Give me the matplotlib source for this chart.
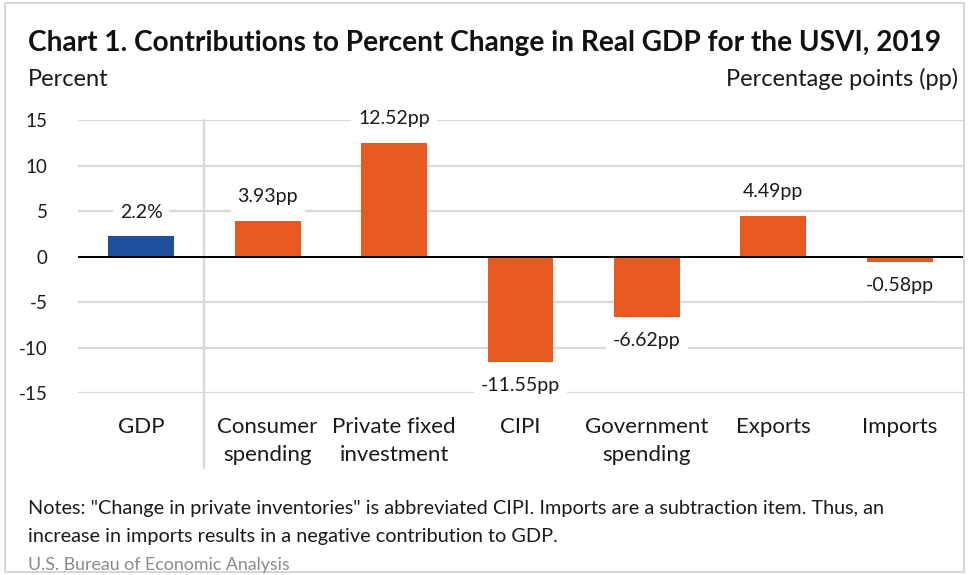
import matplotlib.pyplot as plt
from matplotlib.patches import Rectangle

categories = ["GDP", "Consumer\nspending", "Private fixed\ninvestment", "CIPI",
              "Government\nspending", "Exports", "Imports"]
values = [2.2, 3.93, 12.52, -11.55, -6.62, 4.49, -0.58]
value_labels = ["2.2%", "3.93pp", "12.52pp", "-11.55pp", "-6.62pp", "4.49pp", "-0.58pp"]
yticks = [-15, -10, -5, 0, 5, 10, 15]

blue = "#1f4e9c"
orange = "#e8581f"
grid_col = "#d9d9d9"
font = "Lato"

plt.rcParams['font.family'] = [font, 'DejaVu Sans']

fig = plt.figure(figsize=(9.69, 5.75), dpi=100)
fig.patches.append(Rectangle((0.005, 0.005), 0.99, 0.99, transform=fig.transFigure,
                             fill=False, edgecolor="#d0d0d0", linewidth=1.2))

ax = fig.add_axes([0.0805, 0.3165, 0.9133, 0.4748])
x = list(range(len(categories)))
colors = [blue] + [orange] * (len(values) - 1)
ax.bar(x, values, width=0.52, color=colors, zorder=3)

ax.set_xlim(-0.5, len(categories) - 0.5)
ax.set_ylim(-15, 15)
ax.set_yticks(yticks)
ax.set_yticklabels([str(t) for t in yticks], fontsize=13.5, color="#1a1a1a")
ax.yaxis.grid(True, color=grid_col, linewidth=1.6, zorder=0)
ax.axhline(0, color="black", linewidth=1.4, zorder=4)
ax.tick_params(axis="y", length=0, pad=22)
ax.tick_params(axis="x", length=0, pad=17)
ax.set_xticks(x)
ax.set_xticklabels(categories, fontsize=16, color="#1a1a1a", linespacing=1.5)
for s in ax.spines.values():
    s.set_visible(False)

# GDP separated from its components
ax.plot([0.5, 0.5], [15, -23.2], color=grid_col, linewidth=1.6, clip_on=False, zorder=1)

for xi, v, lab in zip(x, values, value_labels):
    ax.annotate(lab, (xi, v), xytext=(0, 24 if v >= 0 else -24), textcoords="offset pixels",
                ha="center", va="center", fontsize=14, color="#1a1a1a", zorder=5,
                bbox=dict(boxstyle="square,pad=0.35", fc="white", ec="none"))

fig.text(0.029, 0.925, "Chart 1. Contributions to Percent Change in Real GDP for the USVI, 2019",
         fontsize=20.2, fontweight="bold", color="#111111", va="center")
fig.text(0.029, 0.862, "Percent", fontsize=17, color="#1a1a1a", va="center")
fig.text(0.989, 0.862, "Percentage points (pp)", fontsize=17, color="#1a1a1a",
         va="center", ha="right")
fig.text(0.029, 0.091, 'Notes: "Change in private inventories" is abbreviated CIPI. '
         'Imports are a subtraction item. Thus, an\nincrease in imports results in a '
         'negative contribution to GDP.', fontsize=14.3, color="#1a1a1a", va="center",
         linespacing=1.75)
fig.text(0.029, 0.018, "U.S. Bureau of Economic Analysis", fontsize=12.8,
         color="#8a8a8a", va="center")

fig.savefig("out.png", dpi=100)
